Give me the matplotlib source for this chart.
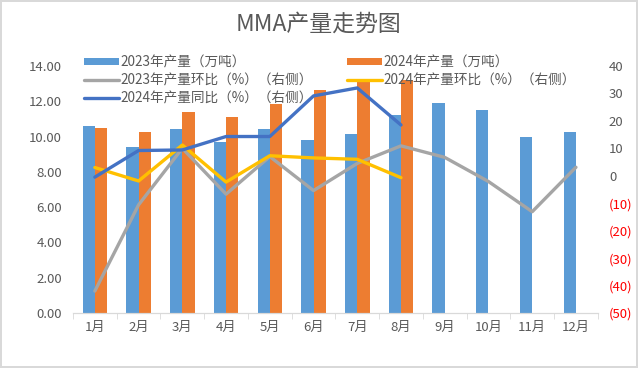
import numpy as np
import matplotlib.pyplot as plt
from matplotlib.ticker import FuncFormatter

plt.rcParams['font.family'] = ['Noto Sans CJK SC', 'DejaVu Sans']

# 数据
months = ['1月', '2月', '3月', '4月', '5月', '6月', '7月', '8月', '9月', '10月', '11月', '12月']
prod_2023 = [10.6, 9.4, 10.43, 9.7, 10.43, 9.8, 10.15, 11.2, 11.9, 11.5, 9.98, 10.26]
prod_2024 = [10.49, 10.26, 11.39, 11.11, 11.85, 12.64, 13.26, 13.2]
mom_2023 = [-42, -10.6, 10, -6.7, 7, -5.4, 4.5, 10.9, 6.7, -2.1, -13.1, 3.1]
mom_2024 = [3.0, -1.9, 11.2, -2.3, 7.3, 6.5, 6.0, -0.7]
yoy_2024 = [-0.5, 9.2, 9.4, 14.3, 14.3, 29.1, 32, 18.5]

fig = plt.figure(figsize=(6.38, 3.68), dpi=100)
fig.patch.set_edgecolor('#d9d9d9')
fig.patch.set_linewidth(1.5)
ax = fig.add_axes([0.1144, 0.1495, 0.8226, 0.6712])
ax2 = ax.twinx()

x = np.arange(len(months))
w = 0.28
ax.bar(x - w / 2, prod_2023, w, color='#5B9BD5', label='2023年产量（万吨）', zorder=2)
ax.bar(x[:len(prod_2024)] + w / 2, prod_2024, w, color='#ED7D31', label='2024年产量（万吨）', zorder=2)

ax2.plot(x, mom_2023, color='#A5A5A5', lw=2.4, solid_capstyle='round', label='2023年产量环比（%）（右侧）')
ax2.plot(x[:len(mom_2024)], mom_2024, color='#FFC000', lw=2.4, solid_capstyle='round', label='2024年产量环比（%）（右侧）')
ax2.plot(x[:len(yoy_2024)], yoy_2024, color='#4472C4', lw=2.4, solid_capstyle='round', label='2024年产量同比（%）（右侧）')

ax.set_xlim(-0.5, 11.5)
ax.set_ylim(0, 14)
ax.set_yticks(np.arange(0, 15, 2))
ax.yaxis.set_major_formatter(FuncFormatter(lambda v, p: '%.2f' % v))
ax2.set_ylim(-50, 40)
ax2.set_yticks(np.arange(-50, 41, 10))
ax2.yaxis.set_major_formatter(FuncFormatter(lambda v, p: '(%d)' % abs(v) if v < 0 else '%d' % v))

ax.set_xticks(x)
ax.set_xticklabels(months)
ax.set_xticks(np.arange(-0.5, 12, 1), minor=True)
ax.tick_params(axis='x', which='major', length=0, pad=6, labelsize=9.5, labelcolor='#595959')
ax.tick_params(axis='x', which='minor', length=4, color='#d9d9d9')
ax.tick_params(axis='y', length=0, labelsize=9.5, labelcolor='#595959', pad=8)
ax2.tick_params(axis='y', length=0, labelsize=9.5, labelcolor='#595959', pad=8)
for lbl, v in zip(ax2.get_yticklabels(), np.arange(-50, 41, 10)):
    if v < 0:
        lbl.set_color('red')

for a in (ax, ax2):
    for s in ['top', 'left', 'right']:
        a.spines[s].set_visible(False)
    a.spines['bottom'].set_color('#d9d9d9')

fig.text(0.5, 0.935, 'MMA产量走势图', ha='center', va='center', fontsize=16.5, color='#595959')

h1, l1 = ax.get_legend_handles_labels()
h2, l2 = ax2.get_legend_handles_labels()
handles = [h1[0], h2[0], h2[2], h1[1], h2[1]]
labels = [l1[0], l2[0], l2[2], l1[1], l2[1]]
fig.legend(handles, labels, ncol=2, loc='upper left', bbox_to_anchor=(0.112, 0.883),
           frameon=False, fontsize=9.8, labelcolor='#595959', handlelength=2.6,
           handleheight=0.5, columnspacing=2.5, labelspacing=0.3, handletextpad=0.1)

fig.savefig('out.png', dpi=100)
